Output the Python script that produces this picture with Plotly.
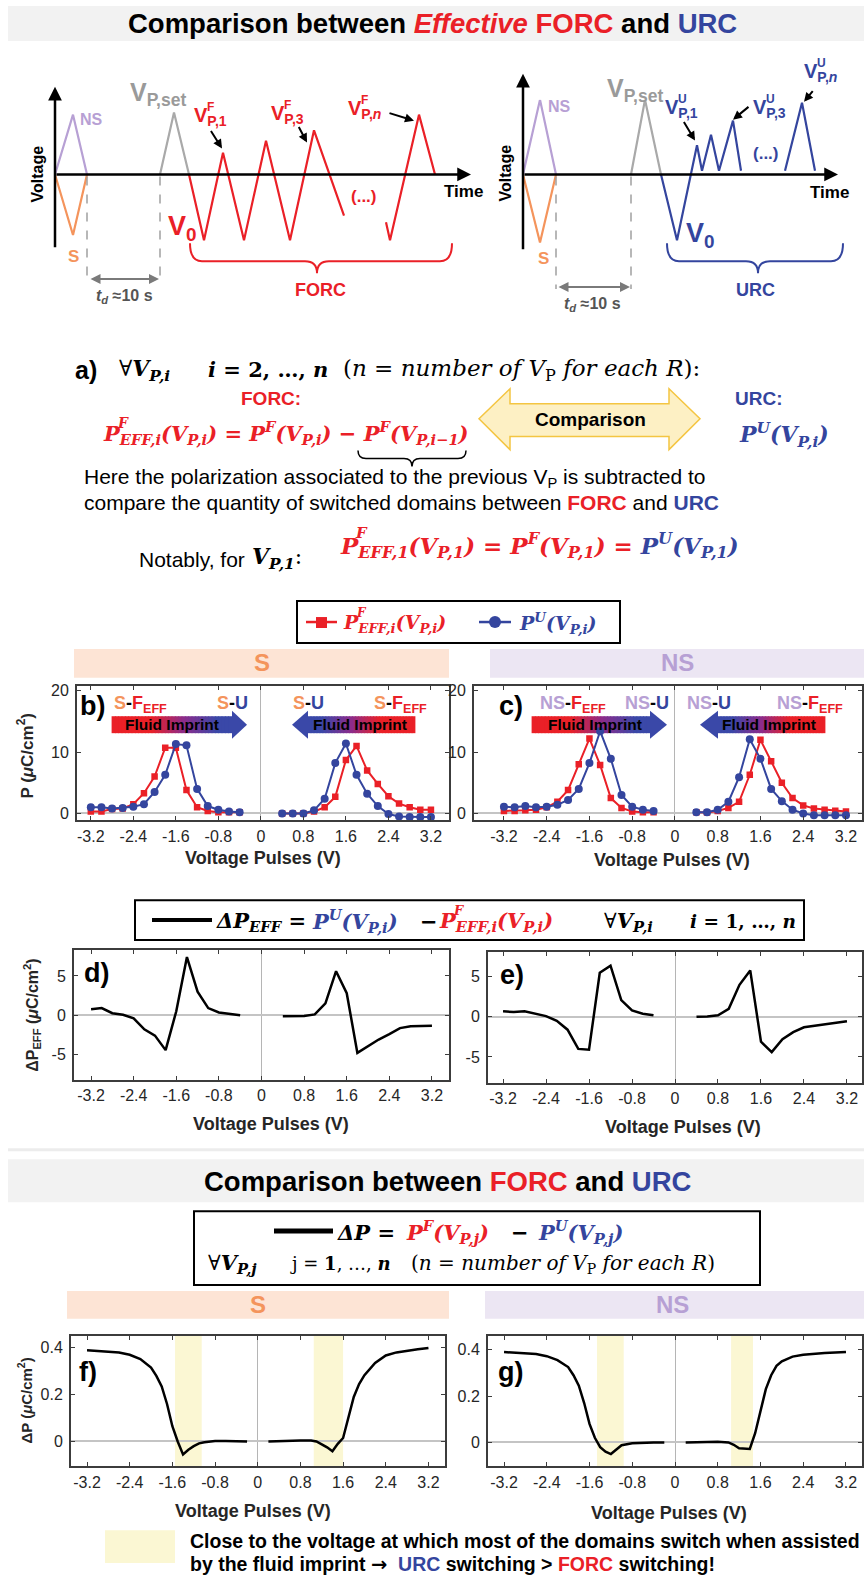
import plotly.graph_objects as go

W, H = 864, 1577
RED = '#ea2027'
BLUE = '#34459e'
ORANGE = '#f4945c'
PURPLE = '#b7a0d4'
LGRAY = '#a9a9a9'
SANS = 'Liberation Sans, Arial, sans-serif'
SERIF = 'DejaVu Serif, serif'

# ---------------- data ----------------
V_NEG = [-3.2, -3.0, -2.8, -2.6, -2.4, -2.2, -2.0, -1.8, -1.6, -1.4, -1.2, -1.0, -0.8, -0.6, -0.4]
V_POS = [0.4, 0.6, 0.8, 1.0, 1.2, 1.4, 1.6, 1.8, 2.0, 2.2, 2.4, 2.6, 2.8, 3.0, 3.2]

# panel b (S)
S_FEFF_NEG = [0.3, 0.3, 0.7, 0.8, 1.5, 3.3, 6.0, 10.7, 10.7, 3.8, 1.0, 0.4, 0.2, 0.2, 0.2]
S_U_NEG = [1.0, 1.0, 0.8, 0.9, 1.1, 1.5, 3.5, 6.3, 11.3, 11.1, 4.0, 1.2, 0.6, 0.3, 0.2]
S_FEFF_POS = [0.0, 0.0, 0.0, 0.3, 1.0, 2.7, 8.7, 11.0, 7.0, 4.8, 2.8, 1.6, 1.0, 0.6, 0.6]
S_U_POS = [0.0, 0.0, 0.0, 0.5, 2.4, 8.2, 11.4, 6.3, 3.2, 1.2, -0.1, -0.5, -0.6, -0.6, -0.6]
# panel c (NS)
NS_FEFF_NEG = [0.4, 0.4, 0.5, 0.6, 1.0, 1.9, 3.8, 8.0, 12.2, 7.9, 2.5, 0.9, 0.3, 0.2, 0.2]
NS_U_NEG = [1.1, 1.0, 1.2, 1.0, 1.1, 1.4, 2.2, 4.0, 8.2, 13.4, 8.9, 3.0, 1.1, 0.6, 0.4]
NS_FEFF_POS = [0.2, 0.15, 0.4, 0.9, 1.9, 6.3, 12.0, 8.5, 5.0, 2.5, 1.3, 0.8, 0.6, 0.45, 0.3]
NS_U_POS = [0.2, 0.2, 0.6, 1.9, 5.9, 12.1, 8.9, 4.0, 2.0, 0.6, 0.0, -0.3, -0.3, -0.3, -0.3]
# panel d / e (Delta P_EFF)
D_NEG = [0.75, 0.9, 0.25, 0.05, -0.4, -1.8, -2.6, -4.45, 0.5, 7.4, 3.0, 0.9, 0.35, 0.15, 0.0]
D_POS = [-0.15, -0.15, -0.1, 0.1, 1.5, 5.6, 2.8, -4.8, -3.9, -3.1, -2.4, -1.65, -1.4, -1.35, -1.35]
E_NEG = [0.7, 0.6, 0.7, 0.4, 0.1, -0.5, -1.6, -4.0, -4.1, 5.5, 6.4, 2.1, 0.8, 0.4, 0.2]
E_POS = [0.0, 0.05, 0.2, 1.0, 4.0, 5.8, -3.1, -4.4, -2.8, -1.9, -1.3, -1.1, -0.9, -0.75, -0.55]
# panel f / g (Delta P)
FG_V_NEG = [-3.2, -3.0, -2.8, -2.6, -2.4, -2.2, -2.0, -1.9, -1.8, -1.7, -1.6, -1.5, -1.4, -1.3, -1.2, -1.1, -1.0, -0.8, -0.6, -0.4, -0.2]
FG_V_POS = [0.2, 0.4, 0.6, 0.8, 1.0, 1.1, 1.2, 1.3, 1.4, 1.5, 1.6, 1.7, 1.8, 1.9, 2.0, 2.2, 2.4, 2.6, 2.8, 3.0, 3.2]
F_NEG = [0.389, 0.387, 0.385, 0.380, 0.370, 0.352, 0.315, 0.28, 0.235, 0.16, 0.065, 0.0, -0.055, -0.035, -0.02, -0.008, -0.003, 0.002, 0.002, 0.001, 0.0]
F_POS = [0.0, 0.002, 0.003, 0.004, 0.004, 0.0, -0.012, -0.025, -0.042, -0.01, 0.015, 0.10, 0.19, 0.245, 0.283, 0.335, 0.367, 0.38, 0.388, 0.393, 0.399]
G_NEG = [0.390, 0.388, 0.385, 0.381, 0.372, 0.355, 0.325, 0.29, 0.245, 0.17, 0.08, 0.02, -0.02, -0.04, -0.05, -0.03, -0.012, -0.003, 0.0, 0.0, 0.0]
G_POS = [0.0, 0.002, 0.003, 0.003, 0.0, -0.01, -0.025, -0.027, -0.028, 0.04, 0.14, 0.23, 0.29, 0.33, 0.35, 0.37, 0.378, 0.383, 0.386, 0.388, 0.39]
F_HIGHLIGHT = [(-1.55, -1.05), (1.05, 1.6)]
G_HIGHLIGHT = [(-1.46, -0.96), (1.05, 1.46)]

X_TICKS = [-3.2, -2.4, -1.6, -0.8, 0, 0.8, 1.6, 2.4, 3.2]
X_TICKTEXT = ['-3.2', '-2.4', '-1.6', '-0.8', '0', '0.8', '1.6', '2.4', '3.2']

# schematic waveforms (time units, normalised voltage)
L_NS_T = [0, 18, 32];            L_NS_V = [0, 0.8, 0]
L_S_T = [0, 18, 32];             L_S_V = [0, -0.81, 0]
L_SET_T = [105, 119, 134];       L_SET_V = [0, 0.83, 0]
L_FORC1_T = [134, 149, 168, 189, 211, 235, 259, 289]
L_FORC1_V = [0, -0.88, 0.29, -0.88, 0.45, -0.88, 0.59, -0.55]
L_FORC2_T = [331, 335, 364, 380]
L_FORC2_V = [-0.64, -0.88, 0.8, 0]
R_NS_T = [0, 17, 33];            R_NS_V = [0, 1.0, 0]
R_S_T = [0, 17, 33];             R_S_V = [0, -0.91, 0]
R_SET_T = [108, 122, 138];       R_SET_V = [0, 1.0, 0]
R_URC1_T = [138, 154, 174, 179, 188, 196, 210, 218]
R_URC1_V = [0, -0.88, 0.39, 0.05, 0.53, 0.05, 0.72, 0.05]
R_URC2_T = [262, 279, 292]
R_URC2_V = [0.05, 0.96, 0.05]

# ---------------- helpers ----------------
def X(x): return x / W
def Y(y): return 1 - y / H

shapes, anns = [], []

def text(x, y, s, size=16, color='black', family=SANS, xa='center', ya='middle', angle=0):
    anns.append(dict(x=X(x), y=Y(y), xref='paper', yref='paper', text=s, showarrow=False,
                     font=dict(size=size, color=color, family=family), xanchor=xa, yanchor=ya,
                     textangle=angle, borderpad=0))

def arrow(x0, y0, x1, y1, color='black', width=2, head=2, size=1.0, both=False):
    d = dict(x=X(x1), y=Y(y1), xref='paper', yref='paper', ax=x0 - x1, ay=y0 - y1,
             text='', showarrow=True, arrowhead=head, arrowsize=size, arrowwidth=width,
             arrowcolor=color, standoff=0)
    if both:
        d.update(arrowside='end+start', startarrowhead=head, startarrowsize=size, startstandoff=0)
    anns.append(d)

def rect(x0, y0, x1, y1, fill, lc=None, lw=0, layer='below'):
    shapes.append(dict(type='rect', xref='paper', yref='paper', x0=X(x0), x1=X(x1), y0=Y(y1), y1=Y(y0),
                       fillcolor=fill, line=dict(color=lc or fill, width=lw), layer=layer))

def seg(x0, y0, x1, y1, color, width, dash='solid'):
    shapes.append(dict(type='line', xref='paper', yref='paper', x0=X(x0), y0=Y(y0), x1=X(x1), y1=Y(y1),
                       line=dict(color=color, width=width, dash=dash)))

def poly(pts, fill, lc=None, lw=0, layer='above'):
    d = 'M ' + ' L '.join(f'{X(a):.6f},{Y(b):.6f}' for a, b in pts) + ' Z'
    shapes.append(dict(type='path', xref='paper', yref='paper', path=d, fillcolor=fill,
                       line=dict(color=lc or fill, width=lw), layer=layer))

def pth(cmds, color='black', width=2):
    parts = []
    for c, pts in cmds:
        parts.append(c + ' ' + ' '.join(f'{X(a):.6f},{Y(b):.6f}' for a, b in pts))
    shapes.append(dict(type='path', xref='paper', yref='paper', path=' '.join(parts),
                       line=dict(color=color, width=width)))

def brace(x0, x1, xm, ytop, ymid, ytip, color, width=2, r=12):
    pth([('M', [(x0, ytop)]), ('Q', [(x0, ymid), (x0 + r, ymid)]), ('L', [(xm - r, ymid)]),
         ('Q', [(xm, ymid), (xm, ytip)]), ('Q', [(xm, ymid), (xm + r, ymid)]), ('L', [(x1 - r, ymid)]),
         ('Q', [(x1, ymid), (x1, ytop)])], color=color, width=width)

def hex2rgb(h):
    h = h.lstrip('#'); return [int(h[i:i + 2], 16) for i in (0, 2, 4)]

def mix(c1, c2, t):
    a, b = hex2rgb(c1), hex2rgb(c2)
    return 'rgb(%d,%d,%d)' % tuple(round(a[i] + (b[i] - a[i]) * t) for i in range(3))

def grad_color(t):
    s = min(1, max(0, (t - 0.33) / 0.55))
    if s < 0.5:
        return mix('#ea2027', '#8a2c8c', s * 2)
    return mix('#8a2c8c', '#3a48a8', (s - 0.5) * 2)

def grad_arrow(x_tail, x_neck, x_tip, yc, bh=17, hh=28):
    n = 36
    for k in range(n):
        a = x_tail + (x_neck - x_tail) * k / n
        b = x_tail + (x_neck - x_tail) * (k + 1) / n
        rect(min(a, b) - 0.4, yc - bh / 2, max(a, b) + 0.4, yc + bh / 2, grad_color((k + 0.5) / n), layer='below')
    poly([(x_neck, yc - hh / 2), (x_tip, yc), (x_neck, yc + hh / 2)], '#3a48a8', layer='below')

def vlabel(x, y, sup, sub, color, size):
    text(x, y, f'<b>V<sub>{sub}</sub></b>', size, color, xa='left')
    text(x + 0.66 * size, y - 0.5 * size, f'<b>{sup}</b>', round(0.62 * size), color, xa='left')

def sp(c, s):
    return f"<span style='color:{c}'>{s}</span>"

fig = go.Figure()

# ---------------- titles ----------------
rect(8, 3, 864, 38, '#f2f2f2')
text(432, 21, '<b>Comparison between <i>' + sp(RED, 'Effective') + '</i> ' + sp(RED, 'FORC') + ' and ' + sp(BLUE, 'URC') + '</b>', 27.5)

# ---------------- schematics ----------------
def sch(t, v, ax, color):
    fig.add_trace(go.Scatter(x=t, y=v, xaxis='x' + ax, yaxis='y' + ax, mode='lines',
                             line=dict(color=color, width=2.2), hoverinfo='skip', showlegend=False))

sch(L_NS_T, L_NS_V, '7', PURPLE); sch(L_S_T, L_S_V, '7', ORANGE); sch(L_SET_T, L_SET_V, '7', LGRAY)
sch(L_FORC1_T, L_FORC1_V, '7', RED); sch(L_FORC2_T, L_FORC2_V, '7', RED)
sch(R_NS_T, R_NS_V, '8', PURPLE); sch(R_S_T, R_S_V, '8', ORANGE); sch(R_SET_T, R_SET_V, '8', LGRAY)
sch(R_URC1_T, R_URC1_V, '8', BLUE); sch(R_URC2_T, R_URC2_V, '8', BLUE)

# left schematic decorations
arrow(55, 246, 55, 84, 'black', 2.5, 2, 1.1)
arrow(55, 172, 471, 172, 'black', 2.5, 2, 1.1)
text(37, 172, '<b>Voltage</b>', 16, angle=-90)
text(463, 189, '<b>Time</b>', 17)
text(91, 117, '<b>NS</b>', 16, PURPLE)
text(73, 254, '<b>S</b>', 17, ORANGE)
seg(87, 174, 87, 280, '#a0a0a0', 1.5, 'dash'); seg(160, 174, 160, 280, '#a0a0a0', 1.5, 'dash')
arrow(89, 277, 159, 277, '#7a7a7a', 2, 2, 1.0, both=True)
text(124, 294, '<b><i>t</i><sub><i>d</i></sub> ≈10 s</b>', 16, '#555555')
text(129, 91, '<b>V<sub>P,set</sub></b>', 25, '#9a9a9a', xa='left')
vlabel(193, 114, 'F', 'P,1', RED, 20)
vlabel(270, 112, 'F', 'P,3', RED, 20)
vlabel(347, 107, 'F', 'P,<i>n</i>', RED, 20)
arrow(210, 127, 222, 146, 'black', 2, 2, 0.9)
arrow(298, 123, 307, 140, 'black', 2, 2, 0.9)
arrow(388, 110, 414, 118, 'black', 2, 2, 0.9)
text(182, 226, '<b>V<sub>0</sub></b>', 27, RED)
text(364, 194, '<b>(...)</b>', 17, RED)
brace(190, 452, 317, 241, 259, 271, RED, 2)
text(320, 288, '<b>FORC</b>', 18, RED)

# right schematic decorations
arrow(523, 248, 523, 71, 'black', 2.5, 2, 1.1)
arrow(523, 172, 838, 172, 'black', 2.5, 2, 1.1)
text(505, 170, '<b>Voltage</b>', 16, angle=-90)
text(829, 190, '<b>Time</b>', 17)
text(559, 104, '<b>NS</b>', 16, PURPLE)
text(543, 256, '<b>S</b>', 17, ORANGE)
seg(556, 174, 556, 287, '#a0a0a0', 1.5, 'dash'); seg(631, 174, 631, 287, '#a0a0a0', 1.5, 'dash')
arrow(557, 285, 630, 285, '#7a7a7a', 2, 2, 1.0, both=True)
text(592, 302, '<b><i>t</i><sub><i>d</i></sub> ≈10 s</b>', 16, '#555555')
text(606, 87, '<b>V<sub>P,set</sub></b>', 25, '#9a9a9a', xa='left')
vlabel(664, 106, 'U', 'P,1', BLUE, 20)
vlabel(752, 106, 'U', 'P,3', BLUE, 20)
vlabel(803, 70, 'U', 'P,<i>n</i>', BLUE, 20)
arrow(683, 118, 695, 138, 'black', 2, 2, 0.9)
arrow(750, 103, 733, 117, 'black', 2, 2, 0.9)
arrow(814, 87, 804, 99, 'black', 2, 2, 0.9)
text(700, 233, '<b>V<sub>0</sub></b>', 27, BLUE)
text(766, 151, '<b>(...)</b>', 17, BLUE)
brace(667, 843, 758, 241, 259, 271, BLUE, 2)
text(755, 288, '<b>URC</b>', 18, BLUE)

# ---------------- section a ----------------
FS = 21
text(74, 368, '<b>a)</b>', 25, xa='left')
text(118, 368, '∀<b><i>V<sub>P,i</sub></i></b>', 22, family=SERIF, xa='left')
text(207, 368, '<b><i>i</i> = 2, …, <i>n</i></b>', 21, family=SERIF, xa='left')
text(342, 368, '(<i>n</i> = <i>number of V</i><sub>P</sub><i> for each R</i>):', 23, family=SERIF, xa='left')
text(271, 397, '<b>FORC:</b>', 19, RED)
text(759, 397, '<b>URC:</b>', 19, BLUE)
text(102, 431, '<b><i>P<sub>EFF,i</sub>(V<sub>P,i</sub>) = P<sup>F</sup>(V<sub>P,i</sub>) − P<sup>F</sup>(V<sub>P,i−1</sub>)</i></b>', 21, RED, SERIF, xa='left')
text(116, 421, '<b><i>F</i></b>', 14, RED, SERIF, xa='left')
brace(358, 466, 412, 449, 457, 465, 'black', 1.5, r=8)
poly([(479, 417), (510, 387), (510, 402), (669, 402), (669, 387), (700, 417), (669, 448), (669, 435),
      (510, 435), (510, 448)], '#fdf0c4', '#f4c542', 1.5)
text(590, 418, '<b>Comparison</b>', 19)
text(738, 433, '<b><i>P<sup>U</sup>(V<sub>P,i</sub>)</i></b>', 22, BLUE, SERIF, xa='left')
text(83, 477, 'Here the polarization associated to the previous V<sub>P</sub> is subtracted to', 21, xa='left')
text(83, 501, 'compare the quantity of switched domains between <b>' + sp(RED, 'FORC') + '</b> and <b>' + sp(BLUE, 'URC') + '</b>', 21, xa='left')
text(138, 558, 'Notably, for', 21, xa='left')
text(251, 557, '<b><i>V<sub>P,1</sub></i></b>:', 22, family=SERIF, xa='left')
text(339, 544, '<b><i>P<sub>EFF,1</sub>(V<sub>P,1</sub>) = P<sup>F</sup>(V<sub>P,1</sub>) = ' + sp(BLUE, 'P<sup>U</sup>(V<sub>P,1</sub>)') + '</i></b>', 23, RED, SERIF, xa='left')
text(354, 532, '<b><i>F</i></b>', 15, RED, SERIF, xa='left')

# legend box b/c
rect(297, 600, 620, 642, 'white', 'black', 2, 'above')
seg(306, 621, 337, 621, RED, 2.5)
rect(316, 616, 327, 627, RED, layer='above')
text(342, 622, '<b><i>P<sub>EFF,i</sub>(V<sub>P,i</sub>)</i></b>', 19, RED, SERIF, xa='left')
text(355, 612, '<b><i>F</i></b>', 12, RED, SERIF, xa='left')
seg(479, 621, 511, 621, BLUE, 2.5)
shapes.append(dict(type='circle', xref='paper', yref='paper', x0=X(489), x1=X(501), y0=Y(627), y1=Y(615),
                   fillcolor=BLUE, line=dict(color=BLUE, width=0)))
text(518, 622, '<b><i>P<sup>U</sup>(V<sub>P,i</sub>)</i></b>', 19, BLUE, SERIF, xa='left')

# S / NS bands
rect(74, 648, 449, 677, '#fde4d5'); text(262, 662, '<b>S</b>', 24, ORANGE)
rect(490, 648, 864, 677, '#ece6f3'); text(677, 662, '<b>NS</b>', 24, PURPLE)

# panels b / c annotations
text(92, 705, '<b>b)</b>', 27); text(511, 705, '<b>c)</b>', 27)
S_F = '<b>' + sp(ORANGE, 'S') + '-' + sp(RED, 'F<sub>EFF</sub>') + '</b>'
S_U = '<b>' + sp(ORANGE, 'S') + '-' + sp(BLUE, 'U') + '</b>'
NS_F = '<b>' + sp(PURPLE, 'NS') + '-' + sp(RED, 'F<sub>EFF</sub>') + '</b>'
NS_U = '<b>' + sp(PURPLE, 'NS') + '-' + sp(BLUE, 'U') + '</b>'
text(140, 704, S_F, 18); text(232, 702, S_U, 18); text(308, 702, S_U, 18); text(400, 704, S_F, 18)
text(573, 704, NS_F, 18); text(647, 702, NS_U, 18); text(709, 702, NS_U, 18); text(810, 704, NS_F, 18)
grad_arrow(112, 232, 247, 724)
grad_arrow(415, 308, 292, 724)
grad_arrow(532, 650, 667, 724)
grad_arrow(825, 718, 700, 724)
for cx in (172, 360, 595, 769):
    text(cx, 724, '<b>Fluid Imprint</b>', 15.5)

# axis titles
AX = '#262626'
text(25, 755, '<b>P (<i>μ</i>C/cm<sup>2</sup>)</b>', 17, AX, angle=-90)
text(32, 1016, '<b>ΔP<sub>EFF</sub> (<i>μ</i>C/cm<sup>2</sup>)</b>', 16, AX, angle=-90)
text(25, 1402, '<b>ΔP (<i>μ</i>C/cm<sup>2</sup>)</b>', 15, AX, angle=-90)
for (cx, cy) in [(263, 858), (672, 860), (271, 1125), (683, 1128), (253, 1513), (669, 1515)]:
    text(cx, cy, '<b>Voltage Pulses (V)</b>', 18, AX)

# d / e legend box
rect(135, 900, 804, 940, 'white', 'black', 2, 'above')
seg(152, 920, 212, 920, 'black', 4)
text(215, 921, '<b><i>ΔP<sub>EFF</sub></i> =</b>', FS, 'black', SERIF, xa='left')
text(311, 921, '<b><i>P<sup>U</sup>(V<sub>P,i</sub>)</i></b>', FS, BLUE, SERIF, xa='left')
text(419, 921, '<b>−</b>', FS, 'black', SERIF, xa='left')
text(438, 921, '<b><i>P<sub>EFF,i</sub>(V<sub>P,i</sub>)</i></b>', FS, RED, SERIF, xa='left')
text(452, 910, '<b><i>F</i></b>', 13, RED, SERIF, xa='left')
text(603, 921, '∀<b><i>V<sub>P,i</sub></i></b>', FS, 'black', SERIF, xa='left')
text(689, 921, '<b><i>i</i> = 1, …, <i>n</i></b>', 18.5, 'black', SERIF, xa='left')
text(96, 973, '<b>d)</b>', 27); text(512, 975, '<b>e)</b>', 27)

# second section
rect(8, 1149, 864, 1152, '#ececec')
rect(8, 1160, 864, 1203, '#f2f2f2')
text(448, 1182, '<b>Comparison between ' + sp(RED, 'FORC') + ' and ' + sp(BLUE, 'URC') + '</b>', 27.5)
rect(194, 1212, 760, 1286, 'white', 'black', 2, 'above')
seg(274, 1232, 333, 1232, 'black', 5)
text(336, 1233, '<b><i>ΔP</i> =</b>', FS, 'black', SERIF, xa='left')
text(405, 1233, '<b><i>P<sup>F</sup>(V<sub>P,j</sub>)</i></b>', FS, RED, SERIF, xa='left')
text(510, 1233, '<b>−</b>', FS, 'black', SERIF, xa='left')
text(537, 1233, '<b><i>P<sup>U</sup>(V<sub>P,j</sub>)</i></b>', FS, BLUE, SERIF, xa='left')
text(207, 1265, '∀<b><i>V<sub>P,j</sub></i></b>', FS, 'black', SERIF, xa='left')
text(289, 1265, 'j = <b>1</b>, …, <b><i>n</i></b>', 18, 'black', SERIF, xa='left')
text(410, 1265, '(<i>n</i> = <i>number of V</i><sub>P</sub><i> for each R</i>)', 20, 'black', SERIF, xa='left')
rect(67, 1292, 449, 1320, '#fde4d5'); text(258, 1306, '<b>S</b>', 24, ORANGE)
rect(485, 1292, 864, 1320, '#ece6f3'); text(672, 1306, '<b>NS</b>', 24, PURPLE)
text(88, 1373, '<b>f)</b>', 27); text(510, 1373, '<b>g)</b>', 27)

# footnote
rect(105, 1532, 175, 1565, '#fbf7d3')
text(189, 1543, '<b>Close to the voltage at which most of the domains switch when assisted</b>', 19.5, xa='left')
text(189, 1566, "<b>by the fluid imprint <span style='font-family:DejaVu Sans'>→</span>  " + sp(BLUE, 'URC') + ' switching &gt; ' + sp(RED, 'FORC') + ' switching!</b>', 19.5, xa='left')

# highlight rectangles in f / g
for (a, b) in F_HIGHLIGHT:
    shapes.append(dict(type='rect', xref='x5', yref='y5 domain', x0=a, x1=b, y0=0, y1=1,
                       fillcolor='#fbf7d3', line=dict(width=0), layer='below'))
for (a, b) in G_HIGHLIGHT:
    shapes.append(dict(type='rect', xref='x6', yref='y6 domain', x0=a, x1=b, y0=0, y1=1,
                       fillcolor='#fbf7d3', line=dict(width=0), layer='below'))

# ---------------- data traces ----------------
def line(xs, ys, ax, color, width=2.2, symbol=None, msize=7):
    kw = dict(mode='lines')
    if symbol:
        kw = dict(mode='lines+markers', marker=dict(symbol=symbol, size=msize, color=color))
    fig.add_trace(go.Scatter(x=xs, y=ys, xaxis='x' + ax, yaxis='y' + ax, line=dict(color=color, width=width),
                             hoverinfo='skip', showlegend=False, **kw))

for ax, fn, fp, un, up in [('', S_FEFF_NEG, S_FEFF_POS, S_U_NEG, S_U_POS),
                           ('2', NS_FEFF_NEG, NS_FEFF_POS, NS_U_NEG, NS_U_POS)]:
    line(V_NEG, fn, ax, RED, 2, 'square', 6.5); line(V_POS, fp, ax, RED, 2, 'square', 6.5)
    line(V_NEG, un, ax, BLUE, 2, 'circle', 8); line(V_POS, up, ax, BLUE, 2, 'circle', 8)
line(V_NEG, D_NEG, '3', 'black', 2.5); line(V_POS, D_POS, '3', 'black', 2.5)
line(V_NEG, E_NEG, '4', 'black', 2.5); line(V_POS, E_POS, '4', 'black', 2.5)
line(FG_V_NEG, F_NEG, '5', 'black', 2.5); line(FG_V_POS, F_POS, '5', 'black', 2.5)
line(FG_V_NEG, G_NEG, '6', 'black', 2.5); line(FG_V_POS, G_POS, '6', 'black', 2.5)

# ---------------- axes ----------------
layout_axes = {}
FRAME = '#3c3c3c'

def panel(idx, xd, yd, xr, yr, yt, ytt):
    k = '' if idx == 1 else str(idx)
    layout_axes['xaxis' + k] = dict(domain=[X(xd[0]), X(xd[1])], range=xr, anchor='y' + k,
        tickvals=X_TICKS, ticktext=X_TICKTEXT, showline=True, mirror='allticks', linecolor=FRAME,
        linewidth=2, ticks='inside', ticklen=4, tickcolor=FRAME, tickwidth=1,
        tickfont=dict(size=16, color=AX, family=SANS), showgrid=False, zeroline=True,
        zerolinecolor='#b5b5b5', zerolinewidth=1, fixedrange=True)
    layout_axes['yaxis' + k] = dict(domain=[Y(yd[1]), Y(yd[0])], range=yr, anchor='x' + k,
        tickvals=yt, ticktext=ytt, showline=True, mirror='allticks', linecolor=FRAME,
        linewidth=2, ticks='inside', ticklen=4, tickcolor=FRAME, tickwidth=1,
        tickfont=dict(size=16, color=AX, family=SANS), showgrid=False, zeroline=True,
        zerolinecolor='#c4c4c4', zerolinewidth=1.5, fixedrange=True, ticklabelstandoff=3)

panel(1, (77, 449), (685, 820), [-3.46, 3.54], [-1.14, 20.8], [0, 10, 20], ['0', '10', '20'])
panel(2, (474, 862), (685, 820), [-3.76, 3.5], [-1.14, 20.8], [0, 10, 20], ['0', '10', '20'])
panel(3, (74, 449), (950, 1080), [-3.52, 3.52], [-8.2, 8.3], [-5, 0, 5], ['-5', '0', '5'])
panel(4, (488, 862), (952, 1083), [-3.48, 3.48], [-8.2, 8.1], [-5, 0, 5], ['-5', '0', '5'])
panel(5, (71, 445), (1337, 1468), [-3.5, 3.51], [-0.106, 0.451], [0, 0.2, 0.4], ['0', '0.2', '0.4'])
panel(6, (488, 862), (1337, 1468), [-3.5, 3.5], [-0.103, 0.46], [0, 0.2, 0.4], ['0', '0.2', '0.4'])

layout_axes['xaxis7'] = dict(domain=[X(55), X(471)], range=[0, 416], visible=False, anchor='y7', fixedrange=True)
layout_axes['yaxis7'] = dict(domain=[Y(247), Y(97)], range=[-1, 1], visible=False, anchor='x7', fixedrange=True)
layout_axes['xaxis8'] = dict(domain=[X(523), X(837)], range=[0, 314], visible=False, anchor='y8', fixedrange=True)
layout_axes['yaxis8'] = dict(domain=[Y(247), Y(97)], range=[-1, 1], visible=False, anchor='x8', fixedrange=True)

fig.update_layout(width=W, height=H, margin=dict(l=0, r=0, t=0, b=0), paper_bgcolor='white',
                  plot_bgcolor='rgba(0,0,0,0)', showlegend=False, shapes=shapes, annotations=anns,
                  font=dict(family=SANS), **layout_axes)
fig.write_html('out.html')
